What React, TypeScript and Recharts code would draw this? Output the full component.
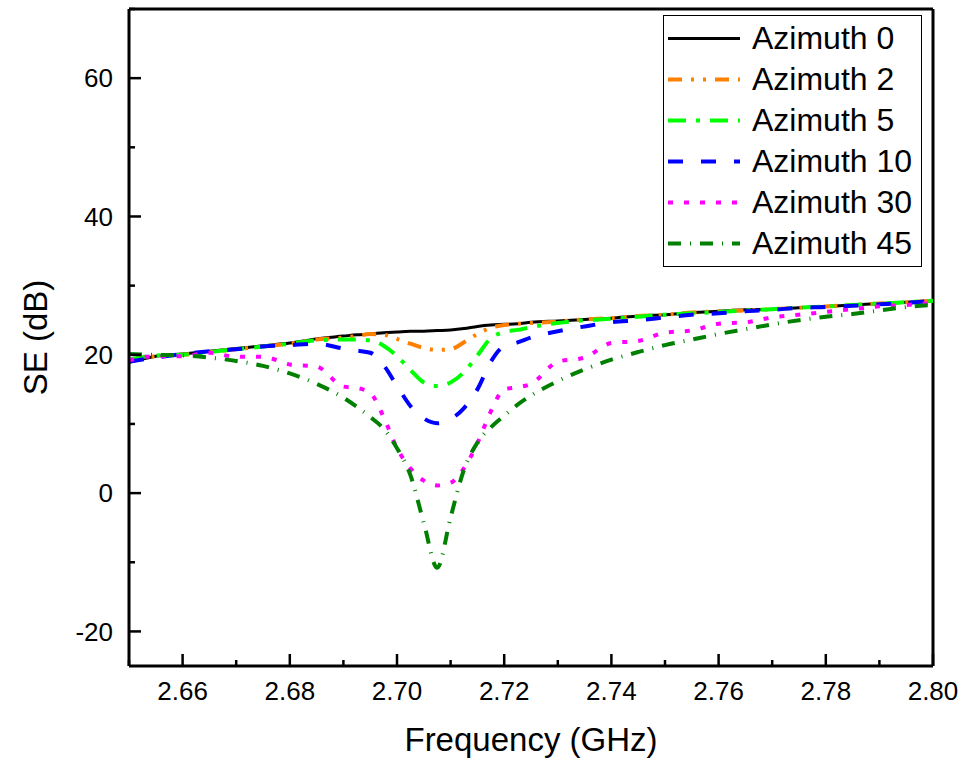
import { LineChart, Line, XAxis, YAxis, Legend, ReferenceLine } from "recharts";

const FONT = "Arial, 'Liberation Sans', sans-serif";

// frequency samples (GHz)
const freq = [
  2.65, 2.655, 2.66, 2.665, 2.67, 2.675, 2.68, 2.685, 2.69, 2.6925, 2.695, 2.6975,
  2.7, 2.7025, 2.705, 2.7075, 2.71, 2.7125, 2.715, 2.7175, 2.72, 2.7225, 2.725,
  2.73, 2.735, 2.74, 2.745, 2.75, 2.755, 2.76, 2.765, 2.77, 2.775, 2.78, 2.785,
  2.79, 2.795, 2.8,
];

// SE (dB) per azimuth
const az0 = [
  18.9, 19.8, 20.1, 20.5, 20.9, 21.3, 21.7, 22.3, 22.7, 22.9, 23.0, 23.2,
  23.3, 23.4, 23.4, 23.5, 23.6, 23.8, 24.1, 24.3, 24.4, 24.5, 24.7,
  24.9, 25.1, 25.3, 25.6, 25.8, 26.1, 26.3, 26.5, 26.6, 26.8, 27.0, 27.2,
  27.4, 27.6, 27.8,
];
const az2 = [
  19.0, 19.8, 20.0, 20.4, 20.8, 21.2, 21.6, 22.2, 22.5, 22.7, 23.0, 22.9,
  22.3, 21.6, 21.0, 20.7, 20.8, 21.8, 23.0, 23.9, 24.3, 24.5, 24.6,
  24.8, 25.1, 25.3, 25.6, 25.8, 26.1, 26.3, 26.4, 26.6, 26.8, 27.0, 27.2,
  27.4, 27.6, 27.8,
];
const az5 = [
  19.3, 19.9, 20.0, 20.4, 20.8, 21.2, 21.6, 22.1, 22.2, 22.2, 22.1, 21.3,
  19.8, 17.8, 16.0, 15.5, 16.0, 17.5, 19.9, 22.4, 23.3, 23.6, 24.0,
  24.6, 25.0, 25.2, 25.5, 25.8, 26.0, 26.2, 26.4, 26.6, 26.8, 27.0, 27.2,
  27.4, 27.6, 27.8,
];
const az10 = [
  19.0, 19.6, 20.1, 20.5, 20.8, 21.2, 21.4, 21.6, 20.9, 20.6, 20.3, 18.5,
  15.5, 12.6, 10.8, 10.1, 10.7, 12.3, 15.0, 19.0, 21.3, 21.8, 22.5,
  23.4, 24.1, 24.7, 25.0, 25.4, 25.8, 26.0, 26.3, 26.5, 26.8, 26.9, 27.1,
  27.3, 27.5, 27.8,
];
const az30 = [
  19.2, 19.8, 19.8, 20.3, 19.7, 19.7, 18.6, 18.3, 15.4, 15.2, 14.5, 11.0,
  6.5, 3.6, 1.8, 1.1, 1.5, 3.6, 7.2, 11.8, 15.0, 15.3, 15.8,
  19.0, 19.6, 21.7, 22.0, 23.2, 23.5, 24.5, 24.7, 25.4, 25.8, 26.2, 26.6,
  27.0, 27.2, 27.5,
];
const az45 = [
  20.1, 20.0, 19.9, 19.6, 19.1, 18.4, 17.3, 15.8, 13.8, 12.5, 11.0, 9.3,
  6.5, 2.6, -4.3, -10.8, -3.5, 3.4, 7.3, 9.5, 11.2, 12.8, 14.1,
  16.2, 17.9, 19.3, 20.4, 21.4, 22.2, 23.0, 23.7, 24.4, 25.0, 25.5, 25.9,
  26.4, 26.9, 27.2,
];

const xTicks = [2.65, 2.66, 2.67, 2.68, 2.69, 2.7, 2.71, 2.72, 2.73, 2.74, 2.75, 2.76, 2.77, 2.78, 2.79, 2.8];
const yTicks = [-20, -10, 0, 10, 20, 30, 40, 50, 60, 70];

const series = [
  { key: "az0", name: "Azimuth 0", values: az0, color: "#000000", dash: undefined, width: 3 },
  { key: "az2", name: "Azimuth 2", values: az2, color: "#FF8000", dash: "14 9 3 9 3 9", width: 4 },
  { key: "az5", name: "Azimuth 5", values: az5, color: "#00FF00", dash: "18 10 4 10", width: 4 },
  { key: "az10", name: "Azimuth 10", values: az10, color: "#0000FF", dash: "15 18", width: 4 },
  { key: "az30", name: "Azimuth 30", values: az30, color: "#FF00FF", dash: "5 11", width: 4 },
  { key: "az45", name: "Azimuth 45", values: az45, color: "#008000", dash: "13 9 1 9", width: 4 },
];

const data = freq.map((f, i) => {
  const row: Record<string, number> = { f };
  series.forEach((s) => (row[s.key] = s.values[i]));
  return row;
});

const XTick = (props: any) => {
  const { x, y, payload } = props;
  const v = payload.value as number;
  const major = Math.round(v * 100) % 2 === 0;
  return (
    <g>
      <line x1={x} x2={x} y1={y} y2={y - (major ? 12 : 6)} stroke="#000" strokeWidth={2.5} />
      {major && (
        <text x={x} y={y + 34} textAnchor="middle" fontSize={26} fontFamily={FONT} fill="#000">
          {v.toFixed(2)}
        </text>
      )}
    </g>
  );
};

const YTick = (props: any) => {
  const { x, y, payload } = props;
  const v = payload.value as number;
  const major = v % 20 === 0;
  return (
    <g>
      <line x1={x} x2={x + (major ? 12 : 6)} y1={y} y2={y} stroke="#000" strokeWidth={2.5} />
      {major && (
        <text x={x - 16} y={y} dy="0.35em" textAnchor="end" fontSize={26} fontFamily={FONT} fill="#000">
          {v}
        </text>
      )}
    </g>
  );
};

const LegendBox = () => (
  <div
    style={{
      width: "100%",
      height: "100%",
      boxSizing: "border-box",
      border: "1.5px solid #000",
      background: "#fff",
      paddingTop: 2,
      fontFamily: FONT,
    }}
  >
    {series.map((s) => (
      <div key={s.key} style={{ height: 41, display: "flex", alignItems: "center" }}>
        <svg width={84} height={41} style={{ flex: "none" }}>
          <line
            x1={4}
            x2={76}
            y1={20.5}
            y2={20.5}
            stroke={s.color}
            strokeWidth={s.width}
            strokeDasharray={s.dash}
          />
        </svg>
        <span style={{ fontSize: 32, color: "#000", marginLeft: 4, whiteSpace: "nowrap" }}>{s.name}</span>
      </div>
    ))}
  </div>
);

export default function App() {
  return (
    <div style={{ position: "absolute", left: 0, top: 0, width: 966, height: 762, background: "#fff" }}>
      <LineChart width={966} height={762} data={data} margin={{ top: 9, right: 33, left: 0, bottom: 0 }}>
        <XAxis
          dataKey="f"
          type="number"
          domain={[2.65, 2.8]}
          ticks={xTicks}
          allowDataOverflow
          height={96}
          tickSize={0}
          tickMargin={0}
          tickLine={false}
          tick={<XTick />}
          axisLine={{ stroke: "#000", strokeWidth: 3 }}
          interval={0}
          label={{
            content: ({ viewBox }: any) => (
              <text
                x={viewBox.x + viewBox.width / 2}
                y={viewBox.y + 85}
                textAnchor="middle"
                fontSize={33}
                fontFamily={FONT}
                fill="#000"
              >
                Frequency (GHz)
              </text>
            ),
          }}
        />
        <YAxis
          type="number"
          domain={[-25, 70]}
          ticks={yTicks}
          allowDataOverflow
          width={129}
          tickSize={0}
          tickMargin={0}
          tickLine={false}
          tick={<YTick />}
          axisLine={{ stroke: "#000", strokeWidth: 3 }}
          interval={0}
          label={{
            content: ({ viewBox }: any) => {
              const cx = viewBox.x + 47;
              const cy = viewBox.y + viewBox.height / 2;
              return (
                <text
                  x={cx}
                  y={cy}
                  transform={`rotate(-90 ${cx} ${cy})`}
                  textAnchor="middle"
                  fontSize={33}
                  fontFamily={FONT}
                  fill="#000"
                >
                  SE (dB)
                </text>
              );
            },
          }}
        />
        <ReferenceLine y={70} stroke="#000" strokeWidth={3} />
        <ReferenceLine x={2.8} stroke="#000" strokeWidth={3} />
        {series.map((s) => (
          <Line
            key={s.key}
            dataKey={s.key}
            name={s.name}
            type="monotone"
            stroke={s.color}
            strokeWidth={s.width}
            strokeDasharray={s.dash}
            dot={false}
            activeDot={false}
            isAnimationActive={false}
          />
        ))}
        <Legend
          layout="vertical"
          align="center"
          verticalAlign="middle"
          content={<LegendBox />}
          wrapperStyle={{ left: 663, top: 15, width: 259, height: 252 }}
        />
      </LineChart>
    </div>
  );
}
